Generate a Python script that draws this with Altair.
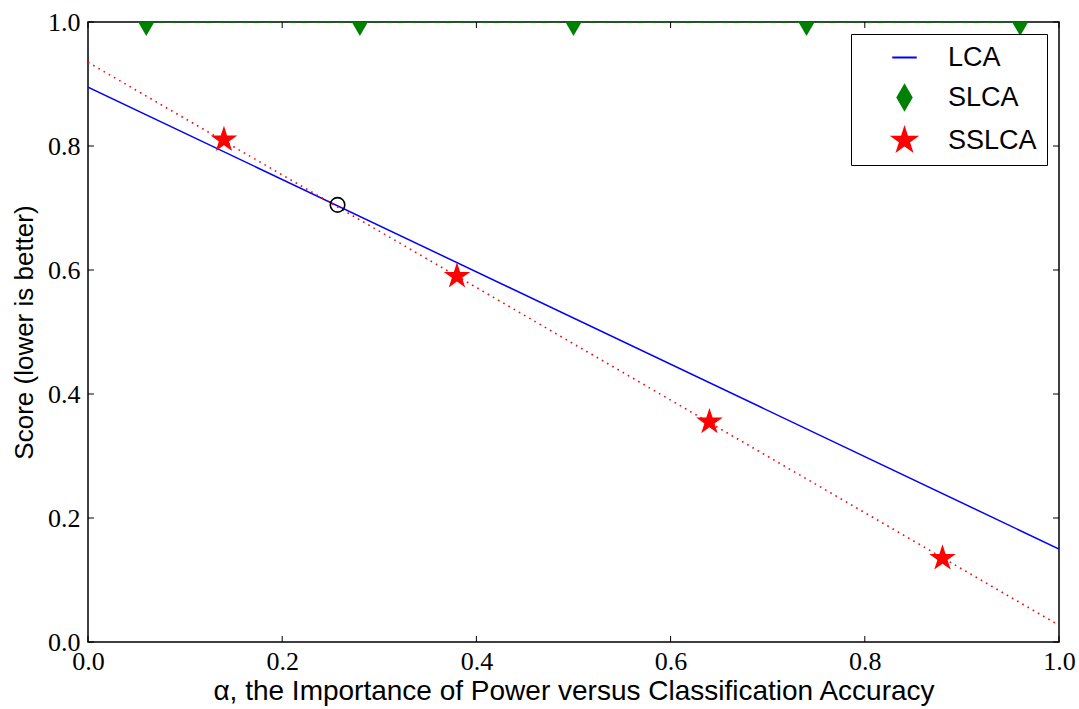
import altair as alt
import pandas as pd

# data
lca_x = [0.0, 1.0]
lca_y = [0.895, 0.150]
slca_x = [0.06, 0.28, 0.50, 0.74, 0.96]
slca_y = [1.0, 1.0, 1.0, 1.0, 1.0]
sslca_x = [0.14, 0.38, 0.64, 0.88]
sslca_y = [0.810, 0.590, 0.355, 0.135]
fit_x = [0.0, 1.0]
fit_y = [0.935, 0.027]
cross_x = [0.257]
cross_y = [0.705]
ticks = [0.0, 0.2, 0.4, 0.6, 0.8, 1.0]

series = ["LCA", "SLCA", "SSLCA"]
colors = ["#0000ff", "#008000", "#ff0000"]
diamond = "M0,-1L0.58,0L0,1L-0.58,0Z"
star = ("M0,-1L0.2245,-0.309L0.951,-0.309L0.3633,0.118L0.5878,0.809"
        "L0,0.382L-0.5878,0.809L-0.3633,0.118L-0.951,-0.309L-0.2245,-0.309Z")
shapes = ["stroke", diamond, star]

W, H = 971, 620

lca_df = pd.DataFrame({"x": lca_x, "y": lca_y})
slca_df = pd.DataFrame({"x": slca_x, "y": slca_y})
fit_df = pd.DataFrame({"x": fit_x, "y": fit_y})
pts_df = pd.DataFrame({
    "x": slca_x + sslca_x,
    "y": slca_y + sslca_y,
    "series": ["SLCA"] * len(slca_x) + ["SSLCA"] * len(sslca_x),
})
cross_df = pd.DataFrame({"x": cross_x, "y": cross_y})
tick_df = pd.DataFrame({"x": ticks, "y": ticks})

xscale = alt.Scale(domain=[0, 1], nice=False, zero=False)
yscale = alt.Scale(domain=[0, 1], nice=False, zero=False)

xaxis = alt.Axis(values=ticks, format=".1f", ticks=False, domain=False, grid=False,
                 labelFlush=False, labelOverlap=False,
                 labelFont="Liberation Serif", labelFontSize=26, labelPadding=6,
                 labelColor="black",
                 title="α, the Importance of Power versus Classification Accuracy",
                 titleFont="Liberation Sans", titleFontSize=28, titleFontWeight="normal",
                 titlePadding=3, titleColor="black")
yaxis = alt.Axis(values=ticks, format=".1f", ticks=False, domain=False, grid=False,
                 labelFlush=False, labelOverlap=False,
                 labelFont="Liberation Serif", labelFontSize=26, labelPadding=8,
                 labelColor="black",
                 title="Score (lower is better)",
                 titleFont="Liberation Sans", titleFontSize=26, titleFontWeight="normal",
                 titlePadding=10, titleColor="black")

X = alt.X("x:Q", scale=xscale, axis=xaxis)
Y = alt.Y("y:Q", scale=yscale, axis=yaxis)

lca = alt.Chart(lca_df).mark_line(color="#0000ff", strokeWidth=1.5, clip=True).encode(x=X, y=Y)
slca_line = alt.Chart(slca_df).mark_line(color="#008000", strokeWidth=1.5,
                                          strokeDash=[6, 6], clip=True).encode(x=X, y=Y)
fit = alt.Chart(fit_df).mark_line(color="#ff0000", strokeWidth=1.6,
                                  strokeDash=[1.6, 4.4], clip=True).encode(x=X, y=Y)

legend = alt.Legend(title=None, orient="top-right", offset=12,
                    labelFont="Liberation Sans", labelFontSize=27, labelColor="black",
                    strokeColor="black", fillColor="white", padding=10,
                    rowPadding=10, symbolSize=600, symbolStrokeWidth=2,
                    labelOffset=30, symbolOffset=30)

pts = alt.Chart(pts_df).mark_point(filled=True, opacity=1, clip=True, strokeWidth=0).encode(
    x=X, y=Y,
    fill=alt.Fill("series:N", scale=alt.Scale(domain=series, range=colors), legend=legend),
    stroke=alt.Stroke("series:N", scale=alt.Scale(domain=series, range=colors), legend=legend),
    shape=alt.Shape("series:N", scale=alt.Scale(domain=series, range=shapes), legend=legend),
    size=alt.value(780),
)

cross = alt.Chart(cross_df).mark_point(color="black", size=210, strokeWidth=1.6,
                                       filled=False, opacity=1).encode(x=X, y=Y)

TL = 6
xb = alt.Chart(tick_df).mark_rule(color="black", strokeWidth=1).encode(
    x=X, y=alt.value(H), y2=alt.value(H - TL))
xt = alt.Chart(tick_df).mark_rule(color="black", strokeWidth=1).encode(
    x=X, y=alt.value(0), y2=alt.value(TL))
yl = alt.Chart(tick_df).mark_rule(color="black", strokeWidth=1).encode(
    y=Y, x=alt.value(0), x2=alt.value(TL))
yr = alt.Chart(tick_df).mark_rule(color="black", strokeWidth=1).encode(
    y=Y, x=alt.value(W), x2=alt.value(W - TL))

chart = alt.layer(lca, slca_line, fit, pts, cross, xb, xt, yl, yr).properties(
    width=W, height=H,
    background="white",
    autosize=alt.AutoSizeParams(type="none"),
    padding={"left": 88, "top": 22, "right": 20, "bottom": 67},
).configure_view(stroke="black", strokeWidth=1.5)

chart.save("out.html", embed_options={"renderer": "svg", "actions": False})
